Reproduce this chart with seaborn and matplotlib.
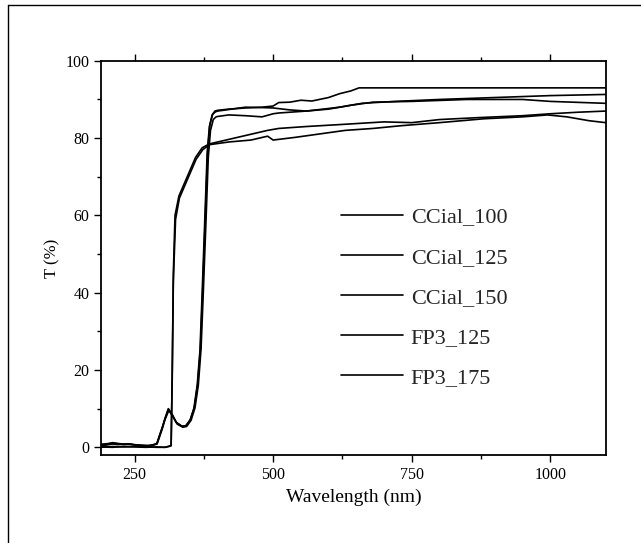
import numpy as np
import pandas as pd
import seaborn as sns
import matplotlib.ticker as mticker
from matplotlib import pyplot as plt
from matplotlib.lines import Line2D

sns.set_theme(style="ticks")
plt.rcParams["font.family"] = ["Liberation Serif", "DejaVu Serif"]

labels = ["CCial_100", "CCial_125", "CCial_150", "FP3_125", "FP3_175"]

# CCial 样品
wl_c100 = [190, 200, 210, 220, 230, 240, 250, 260, 270, 280, 290, 300, 305, 311, 318, 325, 335, 342,
           350, 357, 363, 368, 372, 377, 381, 385, 390, 395, 400, 420, 450, 480, 500, 510, 530, 550,
           570, 600, 620, 640, 655, 700, 800, 900, 1000, 1100]
t_c100 = [0.5, 0.8, 1.2, 1.0, 0.8, 0.9, 0.6, 0.5, 0.4, 0.5, 0.8, 5.0, 7.5, 10.0, 8.5, 6.5, 5.5, 5.5,
          7.0, 10.0, 16.0, 25.0, 40.0, 60.0, 76.0, 83.0, 86.0, 87.0, 87.2, 87.5, 87.8, 88.0, 88.3, 89.2,
          89.3, 89.8, 89.6, 90.5, 91.5, 92.2, 93.0, 93.0, 93.0, 93.0, 93.0, 93.0]

wl_c125 = [190, 200, 215, 230, 245, 260, 275, 290, 300, 306, 311, 318, 326, 336, 343, 351, 358, 364,
           369, 373, 378, 382, 386, 391, 396, 400, 430, 450, 480, 500, 530, 560, 600, 640, 680, 750,
           850, 950, 1000, 1100]
t_c125 = [0.3, 0.6, 1.0, 0.7, 0.8, 0.5, 0.4, 0.9, 5.2, 7.8, 9.8, 8.3, 6.3, 5.4, 5.6, 7.2, 10.5, 16.5,
          26.0, 41.0, 61.0, 77.0, 83.5, 86.2, 86.8, 87.0, 87.6, 88.0, 87.9, 87.8, 87.3, 87.0, 87.5,
          88.5, 89.3, 89.5, 90.0, 90.0, 89.5, 89.0]

wl_c150 = [190, 205, 220, 235, 250, 265, 280, 291, 300, 305, 312, 319, 327, 337, 344, 352, 359, 365,
           370, 374, 379, 383, 387, 392, 397, 400, 420, 450, 480, 500, 510, 560, 620, 660, 720, 800,
           900, 1000, 1100]
t_c150 = [0.8, 1.0, 0.7, 0.9, 0.6, 0.5, 0.4, 1.0, 4.8, 7.2, 9.6, 8.0, 6.0, 5.2, 5.4, 7.0, 10.2, 16.0,
          25.5, 40.0, 59.0, 75.0, 82.0, 84.8, 85.5, 85.6, 86.0, 85.8, 85.5, 86.3, 86.5, 87.0, 88.0,
          89.0, 89.5, 90.0, 90.5, 91.0, 91.3]

# FP3 样品
wl_f125 = [190, 210, 230, 250, 270, 290, 305, 312, 316, 318, 320, 323, 330, 345, 360, 372, 385, 400,
           430, 460, 490, 510, 560, 620, 700, 750, 800, 870, 950, 1000, 1050, 1100]
t_f125 = [0.0, 0.2, 0.1, 0.2, 0.1, 0.0, 0.0, 0.3, 0.5, 20.0, 45.0, 60.0, 65.0, 70.0, 75.0, 77.5,
          78.5, 79.0, 80.0, 81.0, 82.0, 82.5, 83.0, 83.5, 84.2, 84.0, 84.8, 85.3, 85.8, 86.3, 86.7,
          87.0]

wl_f175 = [190, 210, 230, 250, 270, 290, 305, 312, 316, 318, 320, 324, 331, 346, 361, 373, 385, 420,
           460, 490, 500, 540, 580, 630, 680, 730, 800, 880, 950, 995, 1030, 1070, 1100]
t_f175 = [0.1, 0.0, 0.2, 0.1, 0.0, 0.1, 0.0, 0.2, 0.4, 18.0, 43.0, 59.0, 64.5, 69.5, 74.5, 77.0,
          78.3, 79.0, 79.5, 80.5, 79.5, 80.2, 81.0, 82.0, 82.5, 83.2, 84.0, 85.0, 85.5, 86.0, 85.5,
          84.5, 84.0]

series = [(wl_c100, t_c100), (wl_c125, t_c125), (wl_c150, t_c150), (wl_f125, t_f125), (wl_f175, t_f175)]
frames = []
for name, (w, t) in zip(labels, series):
    frames.append(pd.DataFrame({"Wavelength": w, "T": t, "Sample": name}))
data = pd.concat(frames, ignore_index=True)

fig = plt.figure(figsize=(6.41, 5.43), dpi=100)
ax = fig.add_axes([0.158, 0.162, 0.787, 0.726])

sns.lineplot(data=data, x="Wavelength", y="T", hue="Sample", palette=["black"] * 5,
             estimator=None, sort=False, linewidth=1.2, ax=ax)

ax.set_xlim(190, 1100)
ax.set_ylim(-2, 100)
ax.xaxis.set_major_locator(mticker.FixedLocator([250, 500, 750, 1000]))
ax.xaxis.set_minor_locator(mticker.MultipleLocator(125))
ax.yaxis.set_major_locator(mticker.MultipleLocator(20))
ax.yaxis.set_minor_locator(mticker.MultipleLocator(10))
ax.tick_params(which="both", direction="out", colors="black", labelsize=11.5,
               top=True, right=False, width=1.0)
ax.tick_params(which="major", length=5)
ax.tick_params(which="minor", length=3)
for s in ax.spines.values():
    s.set_color("black")
    s.set_linewidth(1.3)

ax.set_xlabel("Wavelength (nm)", fontsize=14, color="black")
ax.set_ylabel("T (%)", fontsize=12, color="black")

leg = ax.legend(loc="upper left", bbox_to_anchor=(0.435, 0.68), frameon=False, fontsize=16,
                handlelength=2.8, handletextpad=0.35, labelspacing=0.88)
for h in leg.get_lines():
    h.set_linewidth(1.2)

# 外框
fig.add_artist(Line2D([8 / 641, 8 / 641], [0, 1 - 5 / 543], color="black", linewidth=1.0))
fig.add_artist(Line2D([8 / 641, 1], [1 - 5 / 543, 1 - 5 / 543], color="black", linewidth=1.0))

plt.savefig("out.png")
